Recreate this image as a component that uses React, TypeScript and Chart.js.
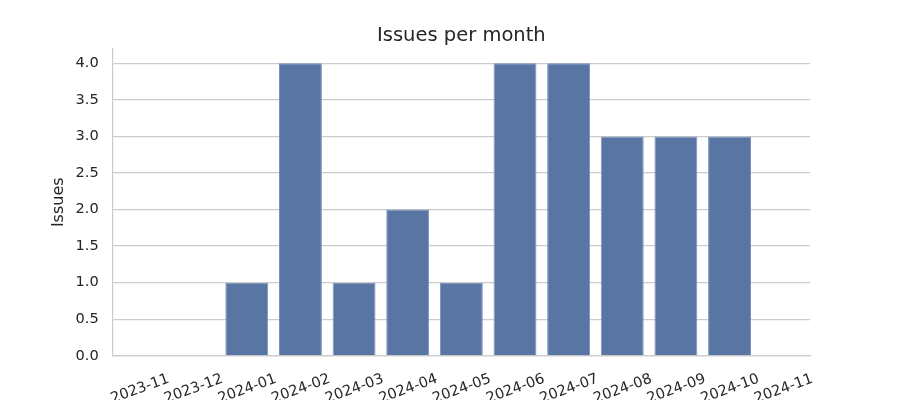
import React, { useEffect, useRef } from "react";
import { Chart, registerables } from "chart.js";

Chart.register(...registerables);

const months = [
  "2023-11", "2023-12", "2024-01", "2024-02", "2024-03", "2024-04", "2024-05",
  "2024-06", "2024-07", "2024-08", "2024-09", "2024-10", "2024-11",
];
const issues = [0, 0, 1, 4, 1, 2, 1, 4, 4, 3, 3, 3, 0];
const yMax = 4.2;
const yStep = 0.5;
const chartTitle = "Issues per month";

const FONT = "'DejaVu Sans', sans-serif";
const TEXT = "#262626";
const GRID = "#cccccc";
const TICK_SIZE = 14.6;

const textPlugin = {
  id: "customText",
  afterDraw(chart: any) {
    const { ctx, scales, chartArea } = chart;
    const x = scales.x;
    ctx.save();
    // title
    ctx.font = `19.5px ${FONT}`;
    ctx.fillStyle = TEXT;
    ctx.textAlign = "center";
    ctx.textBaseline = "alphabetic";
    ctx.fillText(chartTitle, (chartArea.left + chartArea.right) / 2, 41);
    // x tick labels
    ctx.font = `${TICK_SIZE}px ${FONT}`;
    months.forEach((m, i) => {
      const px = x.getPixelForValue(i);
      ctx.save();
      ctx.translate(px, 387.5);
      ctx.rotate((-20 * Math.PI) / 180);
      ctx.fillText(m, 0, 0.365 * TICK_SIZE);
      ctx.restore();
    });
    ctx.restore();
  },
};

export default function App() {
  const ref = useRef<HTMLCanvasElement | null>(null);
  useEffect(() => {
    if (!ref.current) return;
    const chart = new Chart(ref.current, {
      type: "bar",
      data: {
        labels: months,
        datasets: [
          {
            label: "Issues",
            data: issues,
            backgroundColor: "#5975a4",
            borderColor: "#7a92ba",
            borderWidth: 1,
            barPercentage: 0.8,
            categoryPercentage: 1,
          },
        ],
      },
      options: {
        animation: false,
        responsive: false,
        layout: { padding: { left: 0, right: 90, top: 48.7, bottom: 0 } },
        plugins: {
          legend: { display: false },
          tooltip: { enabled: false },
          title: { display: false },
        },
        scales: {
          x: {
            offset: true,
            grid: { display: false, drawTicks: false },
            border: { display: true, color: GRID, width: 1.25 },
            ticks: { display: false },
            afterFit: (s: any) => {
              s.height = 44.2;
            },
          },
          y: {
            min: 0,
            max: yMax,
            grid: { color: GRID, lineWidth: 1.25, drawTicks: false },
            border: { display: true, color: GRID, width: 1.25 },
            ticks: {
              stepSize: yStep,
              includeBounds: false,
              padding: 14,
              color: TEXT,
              font: { family: FONT, size: TICK_SIZE },
              callback: (v: any) => Number(v).toFixed(1),
            },
            title: {
              display: true,
              text: "Issues",
              color: TEXT,
              font: { family: FONT, size: 16, lineHeight: 1.2 },
              padding: { top: 49, bottom: 0 },
            },
            afterFit: (s: any) => {
              s.width = 112.7;
            },
          },
        },
      },
      plugins: [textPlugin],
    });
    return () => chart.destroy();
  }, []);
  return (
    <div style={{ position: "absolute", left: 0, top: 0, width: 900, height: 400, background: "#fff" }}>
      <canvas ref={ref} width={900} height={400} />
    </div>
  );
}
